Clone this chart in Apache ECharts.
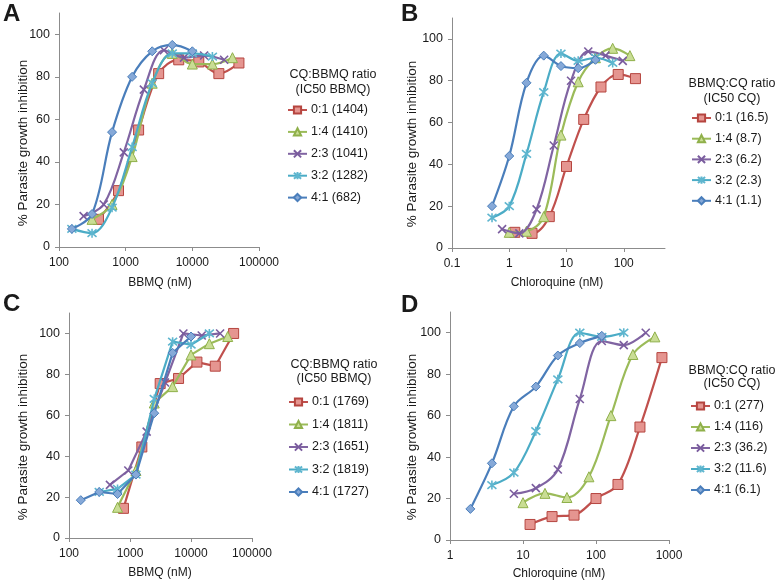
<!DOCTYPE html>
<html>
<head>
<meta charset="utf-8">
<script src="https://cdn.jsdelivr.net/npm/echarts@6/dist/echarts.min.js"></script>
<style>
html,body{margin:0;padding:0;background:#fff;}
#chart{width:778px;height:585px;}
</style>
</head>
<body>
<div id="chart"></div>
<script>
// ---------- Data ----------
const ratioNames = ['0:1', '1:4', '2:3', '3:2', '4:1'];

// Panel A: CQ:BBMQ ratio, x = BBMQ (nM)
const A_ic50 = ['1404', '1410', '1041', '1282', '682'];
const A_x01 = [391, 781, 1563, 3125, 6250, 12500, 25000, 50000];
const A_y01 = [13, 26.5, 55, 81.5, 88, 87, 81.5, 86.5];
const A_x14 = [313, 625, 1250, 2500, 5000, 10000, 20000, 40000];
const A_y14 = [13, 20, 42.5, 77, 91, 86, 86, 89];
const A_x23 = [234, 469, 938, 1875, 3750, 7500, 15000, 30000];
const A_y23 = [14.5, 20, 44.5, 74, 92.5, 89, 90, 88];
const A_x32 = [156, 313, 625, 1250, 2500, 5000, 10000, 20000];
const A_y32 = [8.5, 6.5, 18.5, 47, 77, 91, 91, 89.5];
const A_x41 = [156, 313, 625, 1250, 2500, 5000, 10000];
const A_y41 = [8.5, 15.5, 54, 80, 92, 95, 92];

// Panel B: BBMQ:CQ ratio, x = Chloroquine (nM)
const B_ic50 = ['16.5', '8.7', '6.2', '2.3', '1.1'];
const B_x01 = [1.25, 2.5, 5, 10, 20, 40, 80, 160];
const B_y01 = [7.5, 7, 15, 39, 61.5, 77, 83, 81];
const B_x14 = [1, 2, 4, 8, 16, 32, 64, 128];
const B_y14 = [7.5, 8, 15, 54, 79.5, 91, 95.5, 92];
const B_x23 = [0.75, 1.5, 3, 6, 12, 24, 48, 96];
const B_y23 = [9, 7, 18.5, 49, 80, 94, 92, 89.5];
const B_x32 = [0.5, 1, 2, 4, 8, 16, 32, 64];
const B_y32 = [14.5, 20, 45, 74.5, 93, 89.5, 91, 88.5];
const B_x41 = [0.5, 1, 2, 4, 8, 16, 32];
const B_y41 = [20, 44, 79, 92, 87, 86, 90];

// Panel C: CQ:BBMQ ratio, x = BBMQ (nM)
const C_ic50 = ['1769', '1811', '1651', '1819', '1727'];
const C_x01 = [781, 1563, 3125, 6250, 12500, 25000, 50000];
const C_y01 = [14.5, 44.5, 75.5, 78, 86, 84, 100];
const C_x14 = [625, 1250, 2500, 5000, 10000, 20000, 40000];
const C_y14 = [15, 33, 66, 74, 89.5, 95, 98.5];
const C_x23 = [469, 938, 1875, 3750, 7500, 15000, 30000];
const C_y23 = [26, 33, 52, 76, 100, 99, 100];
const C_x32 = [313, 625, 1250, 2500, 5000, 10000, 20000];
const C_y32 = [22.5, 24, 31, 68, 96, 94.5, 100];
const C_x41 = [156, 313, 625, 1250, 2500, 5000, 10000];
const C_y41 = [18.5, 22.5, 21.5, 31, 61, 90.5, 98.5];

// Panel D: BBMQ:CQ ratio, x = Chloroquine (nM)
const D_ic50 = ['277', '116', '36.2', '11.6', '6.1'];
const D_x01 = [12.5, 25, 50, 100, 200, 400, 800];
const D_y01 = [7.5, 11.3, 12, 20, 26.8, 54.5, 88];
const D_x14 = [10, 20, 40, 80, 160, 320, 640];
const D_y14 = [18, 22.5, 20.5, 30.5, 60, 89.5, 98];
const D_x23 = [7.5, 15, 30, 60, 120, 240, 480];
const D_y23 = [22.3, 25, 34, 68, 96, 94, 100];
const D_x32 = [3.75, 7.5, 15, 30, 60, 120, 240];
const D_y32 = [26.5, 32.5, 52.5, 77.5, 100, 98, 100];
const D_x41 = [1.9, 3.75, 7.5, 15, 30, 60, 120];
const D_y41 = [15, 37, 64.5, 74, 89, 95, 98.5];

// Tick labels
const yTicks = [0, 20, 40, 60, 80, 100];
const xTicksBBMQ = [100, 1000, 10000, 100000];
const xTicksB = [0.1, 1, 10, 100];
const xTicksD = [1, 10, 100, 1000];

// ---------- Styles ----------
const FONT = '"Liberation Sans", Arial, Helvetica, sans-serif';
const TXT = '#1a1a1a';
const AXC = '#8c8c8c';
const styles = [
  {line: '#c0504d', fill: '#e59590', border: '#b5453f', symbol: 'rect', size: 10},
  {line: '#9bbb59', fill: '#c9dd94', border: '#8fb04a', symbol: 'triangle', size: 10},
  {line: '#8064a2', fill: '#8064a2', border: '#7a5c9e', symbol: 'path://M0,0L10,10M10,0L0,10', size: 8},
  {line: '#4bacc6', fill: '#4bacc6', border: '#5fb6cf', symbol: 'path://M0,0L10,10M10,0L0,10M5,-1L5,11', size: 9},
  {line: '#4a7ebb', fill: '#86a9d8', border: '#4a7ebb', symbol: 'diamond', size: 9}
];

function zip(xs, ys) { return xs.map((x, i) => [x, ys[i]]); }

const panels = [
  {ic50: A_ic50, xs: [A_x01, A_x14, A_x23, A_x32, A_x41], ys: [A_y01, A_y14, A_y23, A_y32, A_y41], smooth: true},
  {ic50: B_ic50, xs: [B_x01, B_x14, B_x23, B_x32, B_x41], ys: [B_y01, B_y14, B_y23, B_y32, B_y41], smooth: true},
  {ic50: C_ic50, xs: [C_x01, C_x14, C_x23, C_x32, C_x41], ys: [C_y01, C_y14, C_y23, C_y32, C_y41], smooth: false},
  {ic50: D_ic50, xs: [D_x01, D_x14, D_x23, D_x32, D_x41], ys: [D_y01, D_y14, D_y23, D_y32, D_y41], smooth: true}
];

const grids = [
  {left: 59, top: 13, width: 200, height: 234},
  {left: 452, top: 18, width: 213, height: 230},
  {left: 69, top: 313, width: 183, height: 225},
  {left: 450, top: 312, width: 219, height: 228}
];

const xRanges = [
  {min: 100, max: 100000, ticks: xTicksBBMQ},
  {min: 0.1, max: 525, ticks: xTicksB},
  {min: 100, max: 100000, ticks: xTicksBBMQ},
  {min: 1, max: 1000, ticks: xTicksD}
];

function fmtNum(v) {
  return String(Number(Number(v).toPrecision(6)));
}

const xAxis = xRanges.map((r, i) => ({
  type: 'log', logBase: 10, gridIndex: i, min: r.min, max: r.max,
  axisLine: {show: true, lineStyle: {color: AXC, width: 1}},
  axisTick: {show: true, inside: false, length: 4, lineStyle: {color: AXC}, customValues: r.ticks},
  axisLabel: {show: true, margin: 10, color: TXT, fontSize: 12, fontFamily: FONT,
    customValues: r.ticks, formatter: v => fmtNum(v)},
  splitLine: {show: false}, minorTick: {show: false}
}));

const yAxis = grids.map((g, i) => ({
  type: 'value', gridIndex: i, min: 0, max: 110, interval: 20,
  axisLine: {show: true, lineStyle: {color: AXC, width: 1}},
  axisTick: {show: true, inside: false, length: 4, lineStyle: {color: AXC}, customValues: yTicks},
  axisLabel: {show: true, margin: 9, color: TXT, fontSize: 12.5, fontFamily: FONT,
    customValues: yTicks, formatter: v => (v > 100 ? '' : String(v))},
  splitLine: {show: false}
}));

const series = [];
panels.forEach((p, pi) => {
  for (let s = 0; s < 5; s++) {
    const st = styles[s];
    const isPath = st.symbol.indexOf('path://') === 0;
    series.push({
      type: 'line',
      name: ratioNames[s] + ' (' + p.ic50[s] + ')',
      xAxisIndex: pi, yAxisIndex: pi,
      data: zip(p.xs[s], p.ys[s]),
      smooth: p.smooth ? 0.35 : false,
      symbol: st.symbol,
      symbolSize: st.size,
      showSymbol: true,
      lineStyle: {color: st.line, width: 2.2},
      itemStyle: isPath
        ? {color: 'rgba(0,0,0,0)', borderColor: st.border, borderWidth: 1.6}
        : {color: st.fill, borderColor: st.border, borderWidth: 1},
      emphasis: {disabled: true},
      animation: false,
      z: 2 + s
    });
  }
});

const legendPos = [
  {left: 287, top: 103, gap: 7.9},
  {left: 691, top: 111, gap: 6.7},
  {left: 288, top: 395, gap: 8.5},
  {left: 690, top: 399, gap: 7.0}
];

const legend = panels.map((p, pi) => ({
  orient: 'vertical',
  left: legendPos[pi].left, top: legendPos[pi].top,
  itemGap: legendPos[pi].gap,
  itemWidth: 19, itemHeight: 9,
  padding: 0,
  selectedMode: false,
  data: ratioNames.map((r, s) => r + ' (' + p.ic50[s] + ')'),
  textStyle: {color: TXT, fontSize: 12.5, fontFamily: FONT, lineHeight: 14, padding: [0, 0, 0, -1]}
}));

function txt(t, x, y, size, opts) {
  opts = opts || {};
  return {
    type: 'text', x: x, y: y, rotation: opts.rot || 0, silent: true,
    style: {
      text: t, fill: TXT,
      font: (opts.bold ? 'bold ' : '') + size + 'px ' + FONT,
      align: opts.align || 'center', verticalAlign: 'middle'
    }
  };
}

const graphic = [
  txt('A', 3, 14, 24, {bold: true, align: 'left'}),
  txt('B', 401, 14, 24, {bold: true, align: 'left'}),
  txt('C', 3, 304, 24, {bold: true, align: 'left'}),
  txt('D', 401, 305, 24, {bold: true, align: 'left'}),
  txt('% Parasite growth inhibition', 23, 143, 13.5, {rot: Math.PI / 2}),
  txt('% Parasite growth inhibition', 412, 144, 13.5, {rot: Math.PI / 2}),
  txt('% Parasite growth inhibition', 23, 437, 13.5, {rot: Math.PI / 2}),
  txt('% Parasite growth inhibition', 412, 437, 13.5, {rot: Math.PI / 2}),
  txt('BBMQ (nM)', 160, 283, 12),
  txt('Chloroquine (nM)', 557, 283, 12),
  txt('BBMQ (nM)', 160, 573, 12),
  txt('Chloroquine (nM)', 559, 574, 12),
  txt('CQ:BBMQ ratio', 333, 75, 12.5),
  txt('(IC50 BBMQ)', 333, 90, 12.5),
  txt('BBMQ:CQ ratio', 732, 84, 12.5),
  txt('(IC50 CQ)', 732, 99, 12.5),
  txt('CQ:BBMQ ratio', 334, 365, 12.5),
  txt('(IC50 BBMQ)', 334, 379, 12.5),
  txt('BBMQ:CQ ratio', 732, 371, 12.5),
  txt('(IC50 CQ)', 732, 384, 12.5)
];

const chart = echarts.init(document.getElementById('chart'), null, {renderer: 'canvas'});
chart.setOption({
  backgroundColor: '#ffffff',
  animation: false,
  textStyle: {fontFamily: FONT},
  grid: grids,
  xAxis: xAxis,
  yAxis: yAxis,
  legend: legend,
  series: series,
  graphic: graphic
});
</script>
</body>
</html>
